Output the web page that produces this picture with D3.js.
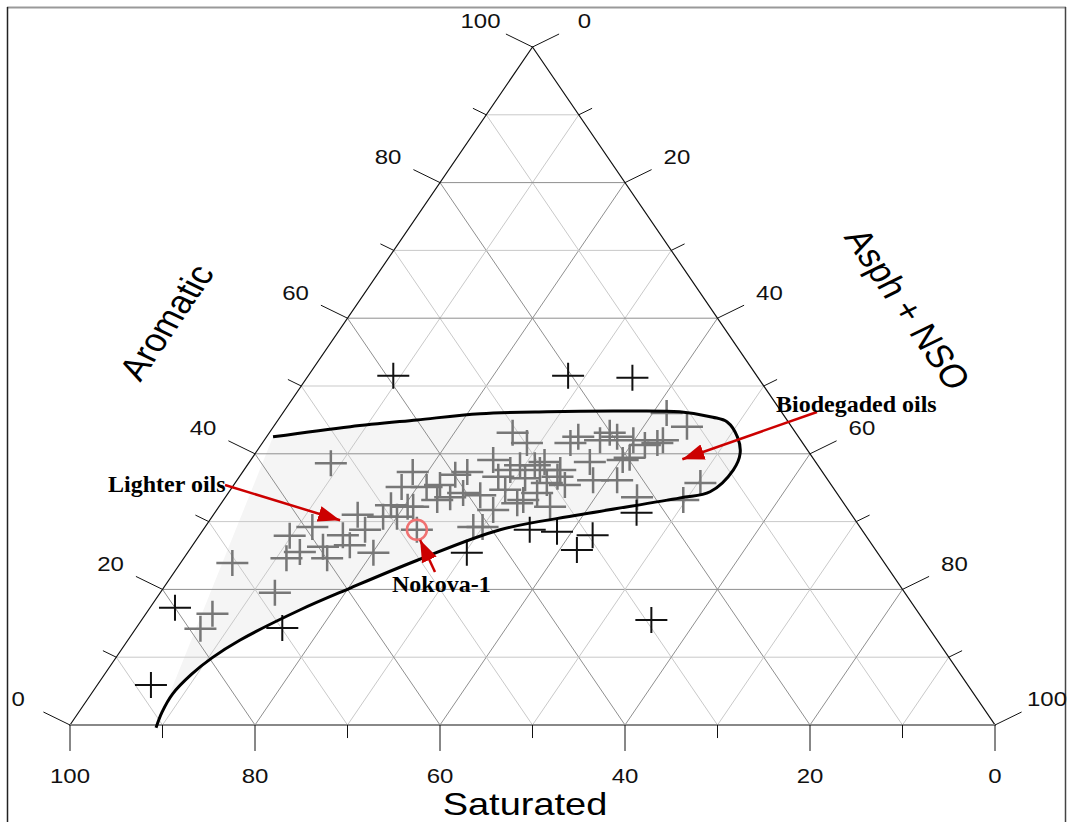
<!DOCTYPE html>
<html>
<head>
<meta charset="utf-8">
<script src="https://cdn.jsdelivr.net/npm/d3@7"></script>
<style>
  body { margin: 0; background: #fff; }
</style>
</head>
<body>
<div class="chart"></div>
<script>
// all compositions are [Saturated, Aromatic, Asph + NSO] in %
const grayPoints = [
  [70.5, 23.9, 5.6], [76.4, 16.4, 7.2], [78.8, 14.2, 7.0], [68.1, 19.5, 12.4],
  [52.5, 38.6, 8.9], [62.3, 27.9, 9.8], [59.2, 29.2, 11.6], [62.4, 25.5, 12.1],
  [64.3, 24.6, 11.1], [59.9, 24.6, 15.5], [56.5, 28.0, 15.5], [56.5, 26.5, 17.0],
  [59.5, 26.3, 14.2], [53.4, 31.0, 15.6], [54.5, 25.4, 20.1], [50.8, 30.7, 18.5],
  [49.3, 30.7, 20.0], [47.4, 32.2, 20.4], [44.3, 37.3, 18.4], [46.6, 35.1, 18.3],
  [46.8, 32.2, 21.0], [43.9, 35.1, 21.0], [43.7, 33.2, 23.1], [42.1, 33.6, 24.3],
  [40.4, 34.2, 25.4], [38.7, 33.9, 27.4], [40.8, 29.2, 30.0], [34.7, 39.1, 26.2],
  [35.4, 36.6, 28.0], [38.4, 37.3, 24.3], [38.4, 31.7, 29.9], [41.8, 29.2, 29.0],
  [48.1, 28.8, 23.1], [30.6, 43.1, 26.3], [29.8, 41.6, 28.6], [30.6, 38.3, 31.1],
  [30.4, 37.6, 32.0], [35.3, 32.7, 32.0], [32.4, 34.2, 33.4], [34.4, 33.2, 32.4],
  [32.0, 32.2, 35.8], [29.0, 36.6, 34.4], [30.6, 35.7, 33.7], [25.1, 41.6, 33.3],
  [23.8, 42.5, 33.7], [24.4, 38.8, 36.8], [25.4, 36.1, 38.5], [20.1, 43.1, 36.8],
  [19.6, 42.5, 37.9], [20.7, 39.1, 40.2], [19.8, 39.4, 40.8], [22.8, 36.1, 41.1],
  [21.9, 33.6, 44.5], [15.7, 41.6, 42.7], [14.9, 42.0, 43.1], [11.3, 44.0, 44.7],
  [12.5, 46.0, 41.5], [14.0, 35.7, 50.3], [17.1, 33.2, 49.7], [17.2, 41.3, 41.5],
  [32.2, 38.3, 29.5], [29.3, 38.8, 31.9], [33.6, 37.6, 28.8], [32.6, 36.4, 31.0],
  [28.2, 37.6, 34.2], [21.7, 42.0, 36.3], [18.1, 42.0, 39.9], [49.1, 32.4, 18.5],
  [53.7, 28.8, 17.5], [42.3, 35.4, 22.3], [39.9, 36.9, 23.2], [28.8, 35.4, 35.8],
  [35.6, 34.7, 29.7]
];

const blackPoints = [
  [39.3, 51.5, 9.2], [20.4, 51.5, 28.1], [13.6, 51.2, 35.2], [80.0, 17.3, 2.7],
  [88.3, 5.9, 5.8], [69.9, 14.3, 15.8], [29.4, 15.5, 55.1], [44.4, 25.4, 30.2],
  [32.3, 25.8, 41.9], [29.5, 28.0, 42.5], [35.9, 28.8, 35.3], [33.1, 28.5, 38.4],
  [23.1, 31.3, 45.6]
];

// outline of the oil field (upper edge, round end, lower edge)
const envelope = [
  [56.8, 42.5, 0.7], [47.7, 44.0, 8.3], [40.0, 45.0, 15.0], [32.7, 45.9, 21.4],
  [25.3, 46.2, 28.5], [18.1, 46.3, 35.6], [11.0, 46.2, 42.8], [7.8, 45.4, 46.8],
  [6.6, 44.7, 48.7], [6.6, 42.5, 50.9], [7.5, 40.1, 52.4], [9.5, 37.6, 52.9],
  [13.6, 34.4, 52.0], [17.3, 33.5, 49.2], [29.4, 31.0, 39.6], [39.1, 28.8, 32.1],
  [50.3, 24.3, 25.4], [59.6, 20.2, 20.2], [66.6, 17.0, 16.4], [75.4, 12.5, 12.1],
  [79.7, 9.9, 10.4], [83.1, 7.5, 9.4], [86.6, 4.6, 8.8], [89.1, 1.9, 9.0],
  [90.9, -0.4, 9.5]
];

const nokova = [48.1, 28.8, 23.1];

const annotations = [
  { label: "Lighter oils", textX: 108, textY: 492, from: [225, 485], to: [55.7, 30.2, 14.1] },
  { label: "Biodegaded oils", textX: 776, textY: 412, from: [817, 412], to: [14.2, 39.2, 46.6] },
  { label: "Nokova-1", textX: 392, textY: 592, from: [435, 572], to: [48.5, 27.3, 24.2] }
];

const tickValues = d3.range(0, 101, 10);
const gridValues = d3.range(10, 100, 10);
const axisTitles = ["Saturated", "Aromatic", "Asph + NSO"];

const svgWidth = 1071;
const svgHeight = 822;
const sansFont = "'Liberation Sans', Arial, sans-serif";
const serifFont = "'Liberation Serif', 'Times New Roman', serif";

const svg = d3.select(".chart")
  .append("svg")
  .attr("width", svgWidth)
  .attr("height", svgHeight);

// ternary -> pixel, equilateral triangle squashed vertically
const s3 = Math.sqrt(3) / 2;
const xScale = d3.scaleLinear().domain([0, 100]).range([70, 995]);
const yScale = d3.scaleLinear().domain([0, 100 * s3]).range([725, 47]);
const k = (725 - 47) / (925 * s3);

function proj(d) {
  const aro = d[1], asph = d[2];
  return [xScale(asph + aro / 2), yScale(aro * s3)];
}

// frame
svg.append("line").attr("x1", 7).attr("x2", 1066).attr("y1", 7.5).attr("y2", 7.5)
  .attr("stroke", "#999").attr("stroke-width", 2);
svg.append("line").attr("x1", 7.5).attr("x2", 7.5).attr("y1", 7).attr("y2", 822)
  .attr("stroke", "#222").attr("stroke-width", 1.5);
svg.append("line").attr("x1", 1065.5).attr("x2", 1065.5).attr("y1", 7).attr("y2", 822)
  .attr("stroke", "#444").attr("stroke-width", 1.5);

const line = d3.line()
  .x(d => proj(d)[0])
  .y(d => proj(d)[1])
  .curve(d3.curveCatmullRom.alpha(0.5));

// shaded field
svg.append("path")
  .attr("d", line(envelope) + "Z")
  .attr("fill", "#f5f5f5")
  .attr("stroke", "none");

// grid
const gridG = svg.append("g").attr("fill", "none").attr("stroke-width", 1);
gridValues.forEach(v => {
  const col = v % 20 === 0 ? "#8f8f8f" : "#c9c9c9";
  const segs = [
    [[100 - v, v, 0], [0, v, 100 - v]],
    [[v, 100 - v, 0], [v, 0, 100 - v]],
    [[0, 100 - v, v], [100 - v, 0, v]]
  ];
  segs.forEach(s => {
    const a = proj(s[0]), b = proj(s[1]);
    gridG.append("line")
      .attr("x1", a[0]).attr("y1", a[1]).attr("x2", b[0]).attr("y2", b[1])
      .attr("stroke", col);
  });
});

// triangle
const corners = [[100, 0, 0], [0, 100, 0], [0, 0, 100]].map(proj);
svg.append("path")
  .attr("d", "M" + corners.join("L") + "Z")
  .attr("fill", "none")
  .attr("stroke", "#111")
  .attr("stroke-width", 1.2);
svg.append("line")
  .attr("x1", corners[0][0]).attr("y1", corners[0][1])
  .attr("x2", corners[2][0]).attr("y2", corners[2][1])
  .attr("stroke", "#888").attr("stroke-width", 2);

// axes: point on edge and outward direction (equilateral space)
const axes = [
  { pt: v => proj([v, 0, 100 - v]), dir: [0, 1] },
  { pt: v => proj([100 - v, v, 0]), dir: [-s3, -0.5] },
  { pt: v => proj([0, 100 - v, v]), dir: [s3, -0.5] }
];

const tickG = svg.append("g");
axes.forEach(ax => {
  tickValues.forEach(v => {
    const p = ax.pt(v);
    const len = v % 20 === 0 ? 30.7 : 15.4;
    tickG.append("line")
      .attr("x1", p[0]).attr("y1", p[1])
      .attr("x2", p[0] + ax.dir[0] * len).attr("y2", p[1] + ax.dir[1] * len * k)
      .attr("stroke", "#111").attr("stroke-width", 1);
    if (v % 20 === 0) {
      tickG.append("text")
        .attr("transform", `translate(${p[0] + ax.dir[0] * 60},${p[1] + ax.dir[1] * 60 * k}) scale(1,${k})`)
        .attr("text-anchor", "middle")
        .attr("dominant-baseline", "central")
        .style("font-family", sansFont)
        .style("font-size", "24px")
        .attr("fill", "#111")
        .text(v);
    }
  });
});

// axis titles
svg.append("text")
  .attr("transform", `translate(525,815) scale(1,${k})`)
  .attr("text-anchor", "middle")
  .style("font-family", sansFont)
  .style("font-size", "38px")
  .text(axisTitles[0]);
svg.append("text")
  .attr("transform", `translate(166,322) scale(1,${k}) rotate(-60)`)
  .attr("text-anchor", "middle")
  .attr("dominant-baseline", "central")
  .style("font-family", sansFont)
  .style("font-size", "38px")
  .text(axisTitles[1]);
svg.append("text")
  .attr("transform", `translate(908,309) scale(1,${k}) rotate(60)`)
  .attr("text-anchor", "middle")
  .attr("dominant-baseline", "central")
  .style("font-family", sansFont)
  .style("font-size", "38px")
  .text(axisTitles[2]);

// crosses
function cross(d) {
  const [x, y] = proj(d);
  return `M${x - 16},${y}H${x + 16}M${x},${y - 13}V${y + 13}`;
}
svg.append("g")
  .selectAll("path")
  .data(grayPoints)
  .enter()
  .append("path")
  .attr("d", cross)
  .attr("stroke", "#777")
  .attr("stroke-width", 2.5)
  .attr("fill", "none");

svg.append("g")
  .selectAll("path")
  .data(blackPoints)
  .enter()
  .append("path")
  .attr("d", cross)
  .attr("stroke", "#111")
  .attr("stroke-width", 2)
  .attr("fill", "none");

// field outline
svg.append("path")
  .attr("d", line(envelope))
  .attr("fill", "none")
  .attr("stroke", "#000")
  .attr("stroke-width", 3);

// Nokova-1 sample
svg.append("circle")
  .attr("cx", proj(nokova)[0])
  .attr("cy", proj(nokova)[1])
  .attr("r", 10)
  .attr("fill", "none")
  .attr("stroke", "#f07272")
  .attr("stroke-width", 2.5);

// arrow marker
svg.append("defs").append("marker")
  .attr("id", "arrow")
  .attr("markerUnits", "userSpaceOnUse")
  .attr("viewBox", "0 0 22 16")
  .attr("refX", 22).attr("refY", 8)
  .attr("markerWidth", 22).attr("markerHeight", 16)
  .attr("orient", "auto")
  .append("path")
  .attr("d", "M0,0L22,8L0,16Z")
  .attr("fill", "#cc0000");

annotations.forEach(a => {
  const tip = proj(a.to);
  svg.append("line")
    .attr("x1", a.from[0]).attr("y1", a.from[1])
    .attr("x2", tip[0]).attr("y2", tip[1])
    .attr("stroke", "#cc0000")
    .attr("stroke-width", 2.5)
    .attr("marker-end", "url(#arrow)");
  svg.append("text")
    .attr("x", a.textX)
    .attr("y", a.textY)
    .style("font-family", serifFont)
    .style("font-weight", "bold")
    .style("font-size", "24px")
    .attr("fill", "#000")
    .text(a.label);
});
</script>
</body>
</html>
